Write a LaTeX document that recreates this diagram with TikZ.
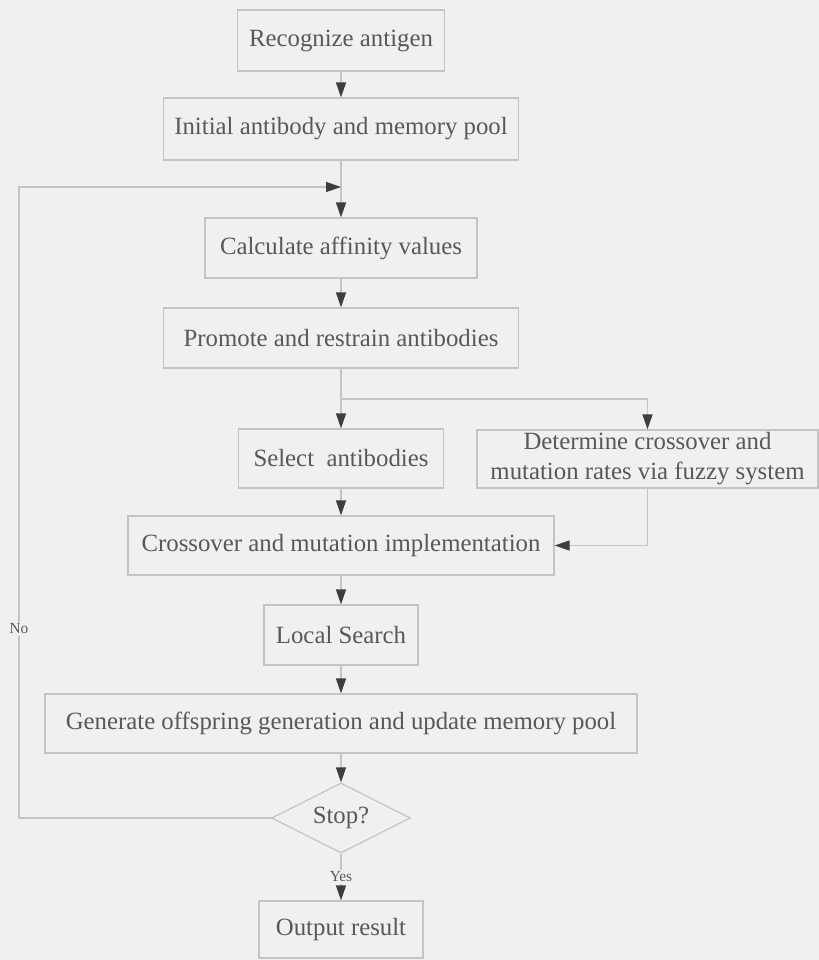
\documentclass[tikz,border=0pt]{standalone}
\usepackage{fontspec}
\setmainfont{Liberation Serif}
\usetikzlibrary{arrows.meta,shapes.geometric}
\definecolor{fond}{RGB}{240,240,239}
\definecolor{trait}{RGB}{196,196,196}
\definecolor{texte}{RGB}{88,88,88}
\definecolor{pointe}{RGB}{62,62,62}
\begin{document}
\begin{tikzpicture}[x=0.5pt,y=-0.5pt]
			\tikzstyle{boite}=[draw=trait,line width=0.6pt,text=texte,font=\fontsize{12.4}{15}\selectfont,inner sep=0pt,align=center]
			\tikzstyle{losange}=[boite,diamond,aspect=2,minimum width=69.5pt,minimum height=35pt]
			\tikzstyle{fleche}=[draw=trait,line width=0.6pt,-{Triangle[color=pointe,length=7.5pt,width=5pt]}]
			\tikzstyle{etiquette}=[fill=fond,text=texte,font=\fontsize{7.7}{9}\selectfont,inner sep=1pt]
			\def\Colonne{341}
			\def\Branche{647.5}
			\useasboundingbox (0,0) rectangle (819,960);
			\fill[fond] (0,0) rectangle (819,960);
			\node[boite,minimum width=103.5pt,minimum height=30.5pt] (antigene) at (\Colonne,40.5) {Recognize antigen};
			\node[boite,minimum width=177.5pt,minimum height=31pt] (initial) at (\Colonne,129) {Initial antibody and memory pool};
			\node[boite,minimum width=136pt,minimum height=30pt] (affinite) at (\Colonne,248) {Calculate affinity values};
			\node[boite,minimum width=177.5pt,minimum height=30pt] (promotion) at (\Colonne,338) {Promote and restrain antibodies};
			\node[boite,minimum width=102.5pt,minimum height=29.5pt] (selection) at (\Colonne,458.5) {Select\ \ antibodies};
			\node[boite,minimum width=170.5pt,minimum height=29pt] (taux) at (\Branche,459) {Determine crossover and\\mutation rates via fuzzy system};
			\node[boite,minimum width=213pt,minimum height=29.5pt] (croisement) at (\Colonne,545.5) {Crossover and mutation implementation};
			\node[boite,minimum width=77pt,minimum height=30pt] (locale) at (\Colonne,635) {Local Search};
			\node[boite,minimum width=296pt,minimum height=29.5pt] (generation) at (\Colonne,723.5) {Generate offspring generation and update memory pool};
			\node[losange] (arret) at (\Colonne,818) {Stop?};
			\node[boite,minimum width=82pt,minimum height=28.5pt] (sortie) at (\Colonne,929.5) {Output result};
			\coordinate (jonction) at (\Colonne,187);
			\coordinate (retour) at (19,187);
			\coordinate (partage) at (\Colonne,399);
			\draw[fleche] (antigene)--(initial) ;
			\draw[fleche] (initial)--(affinite) ;
			\draw[fleche] (affinite)--(promotion) ;
			\draw[fleche] (promotion)--(selection) ;
			\draw[fleche] (partage) -| (taux) ;
			\draw[fleche] (selection)--(croisement) ;
			\draw[fleche] (taux.south) |- (croisement.east) ;
			\draw[fleche] (croisement)--(locale) ;
			\draw[fleche] (locale)--(generation) ;
			\draw[fleche] (generation)--(arret) ;
			\draw[fleche] (arret)-- node[etiquette] {Yes} (sortie) ;
			\draw[fleche] (arret.west) -| node[etiquette,pos=0.65] {No} (retour) -- (jonction) ;
		\end{tikzpicture}
\end{document}
